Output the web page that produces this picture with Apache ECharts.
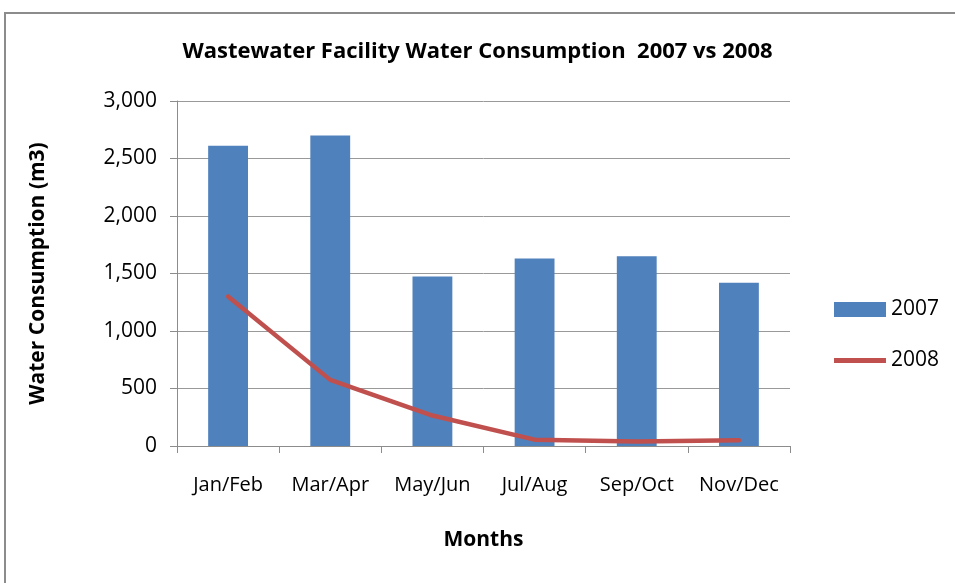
<!DOCTYPE html>
<html>
<head>
<meta charset="utf-8">
<script src="https://cdn.jsdelivr.net/npm/echarts@6/dist/echarts.min.js"></script>
<style>
    html, body { margin: 0; padding: 0; background: #fff; overflow: hidden; }
    #frame { position: absolute; left: 4px; top: 12px; width: 1000px; height: 700px; border: 2px solid #8c8c8c; }
    #chart { position: absolute; left: 0; top: 0; width: 955px; height: 583px; }
</style>
</head>
<body>
<div id="frame"></div>
<div id="chart"></div>
<script>
    const months = ['Jan/Feb', 'Mar/Apr', 'May/Jun', 'Jul/Aug', 'Sep/Oct', 'Nov/Dec'];
    const values2007 = [2610, 2700, 1475, 1630, 1650, 1420];
    const values2008 = [1300, 575, 265, 55, 40, 50];

    const font = 'Open Sans';
    // thin bar centred in the legend box, so the 2008 key looks like a plain line
    const lineIcon = 'path://M0,0L0,0.01M0,5L52,5L52,10L0,10ZM0,15L0,15.01';

    function draw_chart(element) {
        const chartDom = document.getElementById(element);
        const myChart = echarts.init(chartDom);
        let option;

        option = {
            animation: false,
            title: {
                text: 'Wastewater Facility Water Consumption  2007 vs 2008',
                left: 'center',
                top: 36,
                textStyle: {fontFamily: font, fontSize: 22, fontWeight: 'bold', color: '#000'}
            },
            legend: {
                orient: 'vertical',
                left: 829,
                top: 294,
                itemWidth: 52,
                itemHeight: 15,
                itemGap: 30,
                textStyle: {fontFamily: font, fontSize: 21, color: '#000'},
                data: [
                    {name: '2007', icon: 'rect'},
                    {name: '2008', icon: lineIcon}
                ]
            },
            grid: {
                left: 177,
                right: 165,
                top: 101,
                bottom: 137
            },
            xAxis: {
                type: 'category',
                data: months,
                name: 'Months',
                nameLocation: 'middle',
                nameGap: 84,
                nameTextStyle: {fontFamily: font, fontSize: 21, fontWeight: 'bold', color: '#000'},
                axisLine: {lineStyle: {color: '#8c8c8c', width: 1}},
                axisTick: {show: true, interval: 0, length: 7, lineStyle: {color: '#8c8c8c'}},
                axisLabel: {fontFamily: font, fontSize: 20, color: '#000', margin: 29, interval: 0}
            },
            yAxis: {
                type: 'value',
                min: 0,
                max: 3000,
                interval: 500,
                name: 'Water Consumption (m3)',
                nameLocation: 'middle',
                nameGap: 128,
                nameTextStyle: {fontFamily: font, fontSize: 21, fontWeight: 'bold', color: '#000'},
                axisLine: {show: true, lineStyle: {color: '#8c8c8c', width: 1}},
                axisTick: {show: true, length: 7, lineStyle: {color: '#8c8c8c'}},
                axisLabel: {
                    fontFamily: font, fontSize: 21, color: '#000', margin: 20,
                    formatter: v => v.toLocaleString('en-US')
                },
                splitLine: {lineStyle: {color: '#999999', width: 1}}
            },
            series: [
                {
                    name: '2007',
                    type: 'bar',
                    data: values2007,
                    barWidth: '39%',
                    itemStyle: {color: '#4F81BD'}
                },
                {
                    name: '2008',
                    type: 'line',
                    data: values2008,
                    symbol: 'none',
                    lineStyle: {color: '#C0504D', width: 4.5, cap: 'round'},
                    itemStyle: {color: '#C0504D'}
                }
            ]
        };

        option && myChart.setOption(option);
    }

    draw_chart('chart');
</script>
</body>
</html>
